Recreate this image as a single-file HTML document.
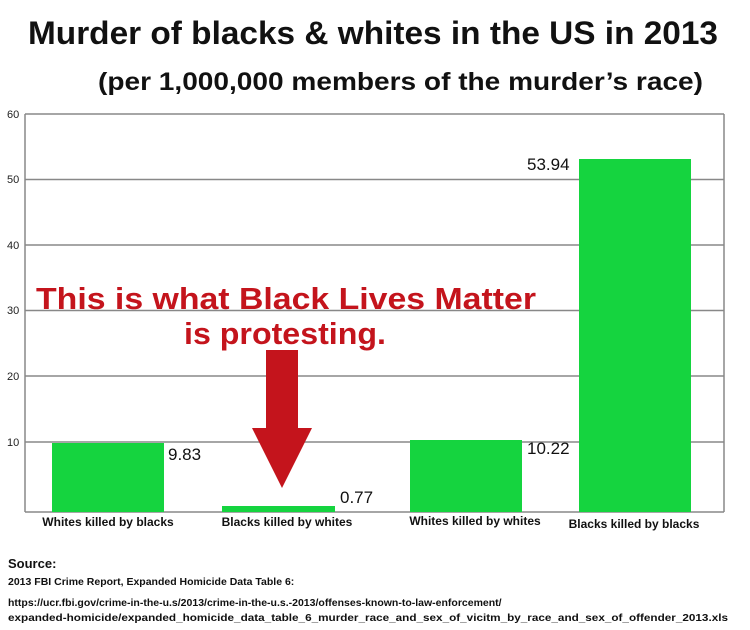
<!DOCTYPE html>
<html><head><style>
html,body{margin:0;padding:0;background:#fff;}
body{width:750px;height:630px;position:relative;overflow:hidden;font-family:"Liberation Sans",sans-serif;}
</style></head><body>
<svg width="750" height="630" style="position:absolute;left:0;top:0" font-family="Liberation Sans, sans-serif">
<text x="28" y="44" font-size="32" font-weight="bold" fill="#111" textLength="690" lengthAdjust="spacingAndGlyphs">Murder of blacks &amp; whites in the US in 2013</text>
<text x="98" y="90" font-size="25" font-weight="bold" fill="#111" textLength="605" lengthAdjust="spacingAndGlyphs">(per 1,000,000 members of the murder’s race)</text>
<g stroke="#888" stroke-width="1.5">
<line x1="25" y1="114" x2="724" y2="114"/>
<line x1="25" y1="179.5" x2="724" y2="179.5"/>
<line x1="25" y1="245" x2="724" y2="245"/>
<line x1="25" y1="310.5" x2="724" y2="310.5"/>
<line x1="25" y1="376" x2="724" y2="376"/>
<line x1="25" y1="442" x2="724" y2="442"/>
<line x1="25" y1="512" x2="724" y2="512"/>
<line x1="25" y1="114" x2="25" y2="512"/>
<line x1="724" y1="114" x2="724" y2="512"/>
</g>
<g font-size="11" fill="#222">
<text x="7" y="118">60</text><text x="7" y="183">50</text><text x="7" y="249">40</text>
<text x="7" y="314">30</text><text x="7" y="380">20</text><text x="7" y="446">10</text>
</g>
<g fill="#15d43f">
<rect x="52" y="443" width="112" height="69"/>
<rect x="222" y="506" width="113" height="6"/>
<rect x="410" y="440" width="112" height="72"/>
<rect x="579" y="159" width="112" height="353"/>
</g>
<g font-size="17" fill="#111">
<text x="168" y="460">9.83</text>
<text x="340" y="503">0.77</text>
<text x="527" y="454">10.22</text>
<text x="527" y="170">53.94</text>
</g>
<g font-size="12" font-weight="bold" fill="#111">
<text x="108" y="526" text-anchor="middle">Whites killed by blacks</text>
<text x="287" y="526" text-anchor="middle">Blacks killed by whites</text>
<text x="475" y="525" text-anchor="middle">Whites killed by whites</text>
<text x="634" y="528" text-anchor="middle">Blacks killed by blacks</text>
</g>
<g font-size="31" font-weight="bold" fill="#c4141c">
<text x="36" y="309" textLength="500" lengthAdjust="spacingAndGlyphs">This is what Black Lives Matter</text>
<text x="184" y="344" textLength="202" lengthAdjust="spacingAndGlyphs">is protesting.</text>
</g>
<polygon points="266,350 298,350 298,428 312,428 282,488 252,428 266,428" fill="#c4141c"/>
<text x="8" y="568" font-size="13" font-weight="bold" fill="#111">Source:</text>
<text x="8" y="585" font-size="10.5" font-weight="bold" fill="#111">2013 FBI Crime Report, Expanded Homicide Data Table 6:</text>
<text x="8" y="606" font-size="10.5" font-weight="bold" fill="#111">https://ucr.fbi.gov/crime-in-the-u.s/2013/crime-in-the-u.s.-2013/offenses-known-to-law-enforcement/</text>
<text x="8" y="621" font-size="10.5" font-weight="bold" fill="#111" textLength="720" lengthAdjust="spacingAndGlyphs">expanded-homicide/expanded_homicide_data_table_6_murder_race_and_sex_of_vicitm_by_race_and_sex_of_offender_2013.xls</text>
</svg>
</body></html>
